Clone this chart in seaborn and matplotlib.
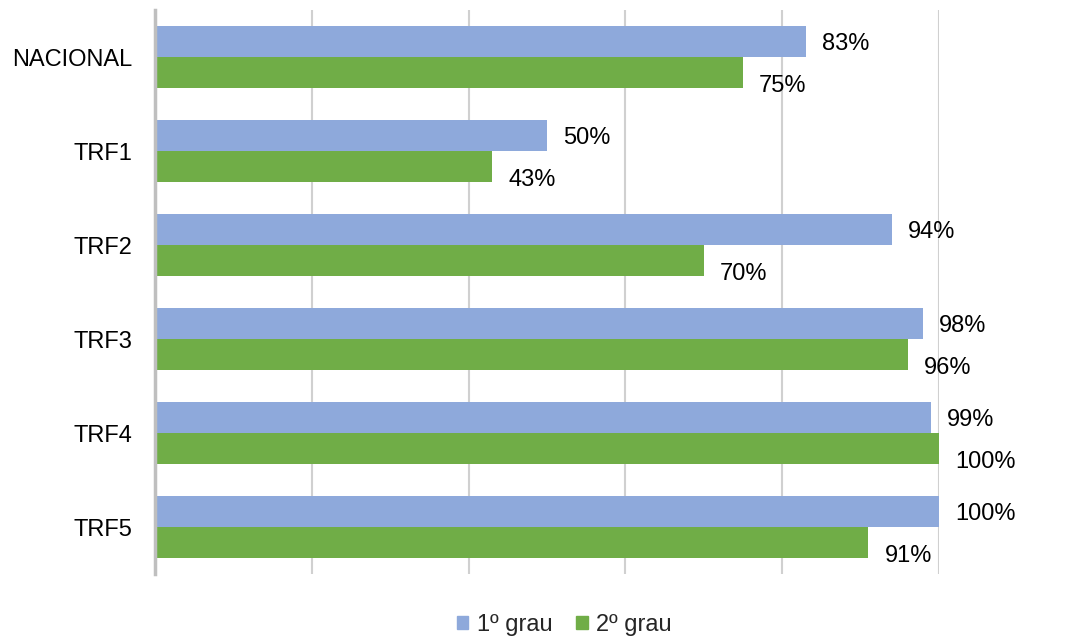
import matplotlib
matplotlib.use("Agg")
import matplotlib.pyplot as plt
import seaborn as sns
import pandas as pd

categories = ["NACIONAL", "TRF1", "TRF2", "TRF3", "TRF4", "TRF5"]
grau1 = [83, 50, 94, 98, 99, 100]
grau2 = [75, 43, 70, 96, 100, 91]
series_names = ["1º grau", "2º grau"]
colors = ["#8EA9DB", "#70AD47"]

df = pd.DataFrame({
    "cat": categories * 2,
    "val": grau1 + grau2,
    "serie": [series_names[0]] * len(categories) + [series_names[1]] * len(categories),
})

sns.set_style("white")
plt.rcParams["font.family"] = ["Liberation Sans", "DejaVu Sans"]
FS = 17

fig = plt.figure(figsize=(10.86, 6.38), dpi=100)
ax = fig.add_axes([155 / 1086, 1 - 574 / 638, (939 - 155) / 1086, (574 - 10) / 638])

sns.barplot(data=df, y="cat", x="val", hue="serie", orient="h",
            palette=colors, width=0.66, ax=ax, saturation=1, legend=False,
            edgecolor="none")

ax.set_xlim(0, 100)
ax.set_ylim(len(categories) - 0.5, -0.5)
ax.set_xticks([0, 20, 40, 60, 80, 100])
ax.set_xticklabels([])
ax.xaxis.grid(True, color="#D0D0D0", linewidth=1.5)
ax.set_axisbelow(True)
ax.set_xlabel("")
ax.set_ylabel("")
for s in ["top", "right", "bottom"]:
    ax.spines[s].set_visible(False)
ax.spines["left"].set_color("#BFBFBF")
ax.spines["left"].set_linewidth(2.5)
ax.tick_params(axis="y", length=0, pad=16, labelsize=FS, labelcolor="#000000")
ax.tick_params(axis="x", length=0)

yoffs = [-2, -9.5]
for ci, cont in enumerate(ax.containers):
    for bar in cont:
        w = bar.get_width()
        yc = bar.get_y() + bar.get_height() / 2
        ax.annotate(f"{w:.0f}%", xy=(w, yc), xytext=(11.5, yoffs[ci]),
                    textcoords="offset points", ha="left", va="center",
                    fontsize=FS, color="#000000", annotation_clip=False)

handles = [plt.Rectangle((0, 0), 1, 1, color=c) for c in colors]
fig.legend(handles, series_names, loc="center", bbox_to_anchor=(564 / 1086, 1 - 625 / 638),
           ncol=2, frameon=False, fontsize=FS, handlelength=0.5, handleheight=0.5,
           handletextpad=0.35, columnspacing=1.0)

fig.savefig("out.png", dpi=100)
